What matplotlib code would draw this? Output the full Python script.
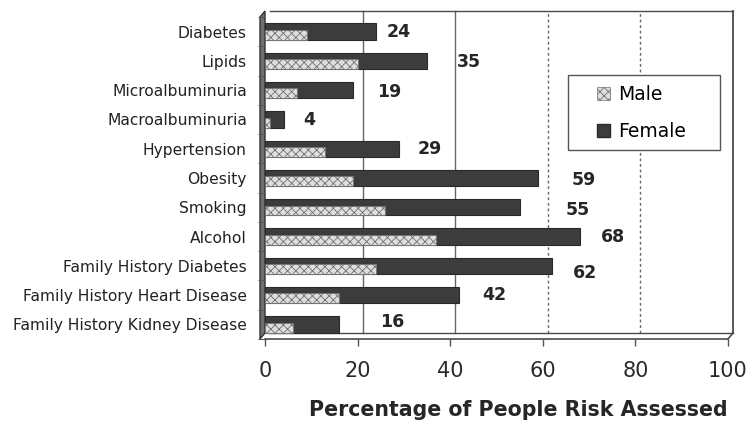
import matplotlib
matplotlib.use("Agg")
import matplotlib.pyplot as plt
import matplotlib.transforms as mtransforms
from matplotlib.patches import Polygon, Patch, Rectangle

plt.rcParams["font.family"] = ["DejaVu Sans"]
plt.rcParams["hatch.linewidth"] = 0.6

# ---- data -------------------------------------------------------------
categories = [
    "Diabetes", "Lipids", "Microalbuminuria", "Macroalbuminuria",
    "Hypertension", "Obesity", "Smoking", "Alcohol",
    "Family History Diabetes", "Family History Heart Disease",
    "Family History Kidney Disease",
]
male = [9, 20, 7, 1, 13, 19, 26, 37, 24, 16, 6]
female = [24, 35, 19, 4, 29, 59, 55, 68, 62, 42, 16]
x_ticks = [0, 20, 40, 60, 80, 100]
series_names = ["Male", "Female"]

# label placement (gap to the right of each bar, in axis units; vertical nudge in rows)
label_gap = [2.3, 6.5, 5.2, 4.2, 4.0, 7.3, 10.0, 4.6, 4.5, 4.9, 8.8]
label_dy = [0.0, 0.05, 0.05, 0.03, 0.0, 0.07, 0.1, 0.0, 0.24, 0.0, -0.07]

W, H = 752, 430
fig = plt.figure(figsize=(W / 100, H / 100), dpi=100)
ax = fig.add_axes([265 / W, 1 - 339 / H, 463 / W, 322 / H])

n = len(categories)
ax.set_xlim(0, 100)
ax.set_ylim(n - 0.5, -0.5)
for s in ax.spines.values():
    s.set_visible(False)

# depth offset of the back wall (pixels right / up)
dx_px, dy_px = 5, 6
depth = mtransforms.ScaledTranslation(dx_px / 100, dy_px / 100, fig.dpi_scale_trans)
back_axes = ax.transAxes + depth
back_xaxis = ax.get_xaxis_transform() + depth
edge = "#4a4a4a"
ddx, ddy = dx_px / 463, dy_px / 322

# back wall frame: top and right edges
ax.plot([0, 1], [1, 1], transform=back_axes, color=edge, lw=1.0, clip_on=False)
ax.plot([1, 1], [0, 1], transform=back_axes, color=edge, lw=1.3, clip_on=False)

# gridlines on the back wall
for v in x_ticks[1:-1]:
    style = "-" if v <= 40 else (0, (2, 2))
    ax.plot([v, v], [0, 1], transform=back_xaxis, color="#666666",
            lw=1.0, ls=style, clip_on=False, zorder=0.5)

# floor: front and back edges with the corner joining them
ax.plot([0, 1], [0, 0], transform=ax.transAxes, color=edge, lw=1.2, clip_on=False)
ax.plot([0, 1], [0, 0], transform=back_axes, color=edge, lw=1.0, clip_on=False)
ax.plot([1, 1 + ddx], [0, ddy], transform=ax.transAxes,
        color=edge, lw=1.2, clip_on=False)

# left side wall
wall = Polygon([(-ddx, 0), (0, ddy), (0, 1 + ddy), (-ddx, 1)],
               closed=True, transform=ax.transAxes, facecolor="#707070",
               edgecolor="#333333", lw=1.0, clip_on=False, zorder=1)
ax.add_patch(wall)

# bars: female behind, male in front along the lower part of each row
ys = list(range(n))
fh, mh = 0.56, 0.34
female_color = "#3c3c3c"
male_color = "#dedede"
ax.barh(ys, female, height=fh, left=0, color=female_color, edgecolor="#2a2a2a",
        lw=0.8, zorder=2)
ax.barh([y + fh / 2 - mh / 2 for y in ys], male, height=mh, left=0,
        color=male_color, edgecolor="#707070", hatch="xxxx", lw=0.5, zorder=3)

# value labels
for y, v, g, dy in zip(ys, female, label_gap, label_dy):
    ax.text(v + g, y + dy, str(v), ha="left", va="center", fontsize=12.5,
            fontweight="bold", color="#262626", zorder=4)

# category axis: labels at rows, small ticks between rows
ax.set_yticks(ys)
ax.set_yticklabels(categories, fontsize=11.2, color="#222222")
ax.tick_params(axis="y", which="major", length=0, pad=13)
ax.set_yticks([y + 0.5 for y in range(-1, n)], minor=True)
ax.tick_params(axis="y", which="minor", length=5, width=0.8, color="#555555",
               direction="out", pad=0)

# value axis
ax.set_xticks(x_ticks)
ax.set_xticklabels([str(t) for t in x_ticks], fontsize=15, color="#2a2a2a")
ax.tick_params(axis="x", length=5, width=1.0, color="#555555", pad=11,
               direction="out")

fig.text(518 / W, 1 - 410 / H, "Percentage of People Risk Assessed",
         ha="center", va="center", fontsize=14.8, fontweight="bold",
         color="#262626")

# legend: box drawn separately, entries placed inside it
fig.patches.append(Rectangle((568 / W, 1 - 150 / H), 152 / W, 75 / H,
                             transform=fig.transFigure, facecolor="white",
                             edgecolor="#555555", lw=1.0, zorder=5))
handles = [
    Patch(facecolor=male_color, edgecolor="#707070", hatch="xxxx", lw=0.5),
    Patch(facecolor=female_color, edgecolor="#2a2a2a"),
]
leg = fig.legend(handles, series_names, loc="upper left",
                 bbox_to_anchor=(597 / W, 1 - 85 / H), fontsize=13.5,
                 frameon=False, handlelength=0.7, handleheight=0.7,
                 handletextpad=0.45, labelspacing=0.95, borderpad=0,
                 borderaxespad=0)
leg.set_zorder(6)

fig.savefig("out.png", dpi=100, facecolor="white")
